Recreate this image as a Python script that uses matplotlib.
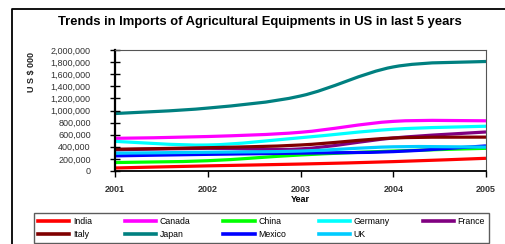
import matplotlib
matplotlib.use('Agg')
import matplotlib.pyplot as plt
from matplotlib.path import Path
from matplotlib.patches import PathPatch
from matplotlib.lines import Line2D
from matplotlib.ticker import FuncFormatter

plt.rcParams['font.family'] = ['Liberation Sans', 'DejaVu Sans']

years = [2001, 2002, 2003, 2004, 2005]
countries = ['India', 'Canada', 'China', 'Germany', 'France',
             'Italy', 'Japan', 'Mexico', 'UK']
colors = ['#ff0000', '#ff00ff', '#00ff00', '#00ffff', '#800080',
          '#800000', '#008080', '#0000ff', '#00ccff']

india = [50000, 85000, 115000, 155000, 210000]
canada = [540000, 570000, 640000, 820000, 830000]
china = [140000, 170000, 265000, 330000, 375000]
germany = [490000, 430000, 550000, 690000, 740000]
france = [350000, 375000, 365000, 545000, 645000]
italy = [360000, 385000, 430000, 545000, 560000]
japan = [950000, 1040000, 1240000, 1720000, 1810000]
mexico = [250000, 275000, 295000, 320000, 415000]
uk = [295000, 310000, 330000, 400000, 395000]

series = [india, canada, china, germany, france, italy, japan, mexico, uk]


def smooth_path(xs, ys):
    # excel style smoothed line: cubic bezier segments through the points
    pts = list(zip(xs, ys))
    n = len(pts)
    verts = [pts[0]]
    codes = [Path.MOVETO]
    for i in range(n - 1):
        p0 = pts[max(i - 1, 0)]
        p1 = pts[i]
        p2 = pts[i + 1]
        p3 = pts[min(i + 2, n - 1)]
        c1 = (p1[0] + (p2[0] - p0[0]) / 6, p1[1] + (p2[1] - p0[1]) / 6)
        c2 = (p2[0] - (p3[0] - p1[0]) / 6, p2[1] - (p3[1] - p1[1]) / 6)
        verts += [c1, c2, p2]
        codes += [Path.CURVE4] * 3
    return Path(verts, codes)


W, H = 506, 244
fig = plt.figure(figsize=(W / 100, H / 100), dpi=100)
ax = fig.add_axes([115 / W, 1 - 171 / H, 371 / W, 121 / H])

handles = []
for name, vals, c in zip(countries, series, colors):
    ax.add_patch(PathPatch(smooth_path(years, vals), fill=False,
                           edgecolor=c, lw=2.3, capstyle='butt'))
    handles.append(Line2D([], [], color=c, lw=2.6, label=name))

ax.set_xlim(2001, 2005)
ax.set_ylim(0, 2000000)
ax.set_xticks(years)
ax.set_yticks(range(0, 2000001, 200000))
ax.yaxis.set_major_formatter(FuncFormatter(lambda v, p: f'{int(v):,}'))
ax.tick_params(axis='y', direction='inout', length=7, width=1,
               labelsize=6.5, labelcolor='#333333', pad=14)
ax.tick_params(axis='x', direction='out', length=4, width=1,
               labelsize=6.5, labelcolor='#333333', pad=6)
for lbl in ax.get_xticklabels():
    lbl.set_fontweight('bold')
ax.spines['left'].set_linewidth(1.6)
ax.spines['bottom'].set_linewidth(1.3)
ax.spines['top'].set_color('#555555')
ax.spines['right'].set_color('#555555')
ax.spines['top'].set_linewidth(0.8)
ax.spines['right'].set_linewidth(0.8)

fig.text(260 / W, 1 - 22 / H,
         'Trends in Imports of Agricultural Equipments in US in last 5 years',
         ha='center', va='center', fontsize=9.4, fontweight='bold')
fig.text(300 / W, 1 - 199 / H, 'Year', ha='center', va='center',
         fontsize=6.5, fontweight='bold')
fig.text(32 / W, 1 - 72 / H, 'U S $ 000', ha='center', va='center',
         rotation=90, fontsize=6.5, fontweight='bold', color='#222222')

# outer chart border (runs off the right and bottom edge)
fig.add_artist(Line2D([12 / W, 12 / W, 1.01], [-0.01, 1 - 9 / H, 1 - 9 / H],
                      transform=fig.transFigure, color='black', lw=1.3))

# legend laid out row by row
order = [0, 5, 1, 6, 2, 7, 3, 8, 4]
leg = fig.legend([handles[i] for i in order], [countries[i] for i in order],
                 ncol=5, loc='lower left',
                 bbox_to_anchor=(34 / W, 1 - 243 / H, 455 / W, 31 / H),
                 mode='expand', fontsize=6.3, frameon=True, fancybox=False,
                 edgecolor='#333333', handlelength=3.6, handletextpad=0.4,
                 columnspacing=0.8, borderpad=0.45, labelspacing=0.45,
                 borderaxespad=0)
leg.get_frame().set_linewidth(1)

fig.savefig('out.png', dpi=100)
